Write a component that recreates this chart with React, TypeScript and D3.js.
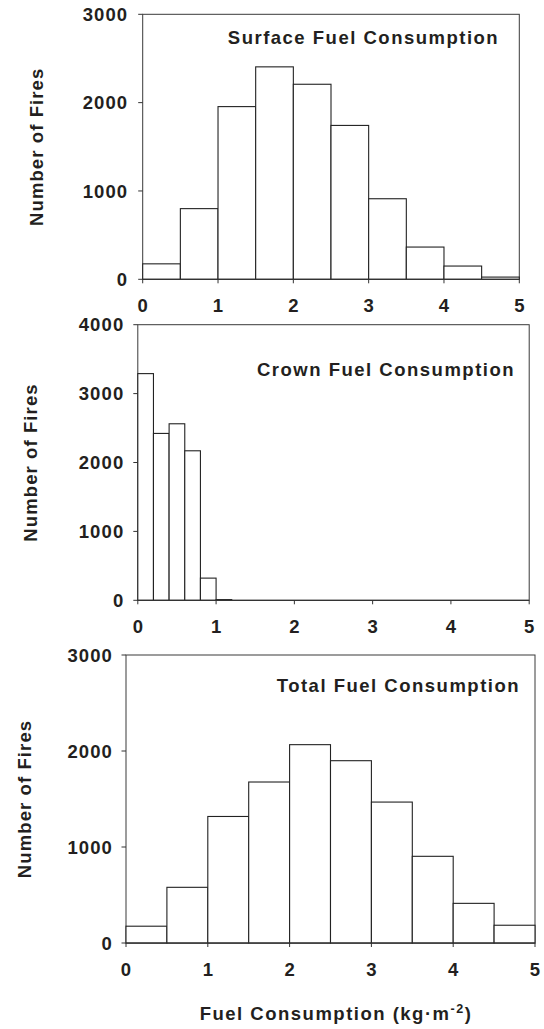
import React from "react";
import * as d3 from "d3";

const surfaceBins = [0, 0.5, 1, 1.5, 2, 2.5, 3, 3.5, 4, 4.5];
const surfaceCounts = [175, 800, 1955, 2405, 2208, 1742, 912, 365, 150, 25];

const crownBins = [0, 0.2, 0.4, 0.6, 0.8, 1.0];
const crownCounts = [3290, 2422, 2562, 2170, 322, 10];

const totalBins = [0, 0.5, 1, 1.5, 2, 2.5, 3, 3.5, 4, 4.5];
const totalCounts = [175, 580, 1318, 1677, 2066, 1899, 1468, 903, 413, 185];

const xTicks = [0, 1, 2, 3, 4, 5];
const yTicksA = [0, 1000, 2000, 3000];
const yTicksB = [0, 1000, 2000, 3000, 4000];

const titles = ["Surface Fuel Consumption", "Crown Fuel Consumption", "Total Fuel Consumption"];
const yTitle = "Number of Fires";

const INK = "#231f20";
const FONT = "'Liberation Sans', Arial, sans-serif";
const FS = 18.5;

type PanelProps = {
  bins: number[];
  counts: number[];
  width: number;
  yMax: number;
  yTicks: number[];
  x0: number; x1: number; yTop: number; yBot: number;
  title: string; titleX: number; titleY: number;
  yTitleX: number; labelGap: number;
};

function Panel(p: PanelProps) {
  const x = d3.scaleLinear().domain([0, 5]).range([p.x0, p.x1]);
  const y = d3.scaleLinear().domain([0, p.yMax]).range([p.yBot, p.yTop]);
  const txt = { fontFamily: FONT, fontWeight: 700, fontSize: FS, fill: INK } as const;
  return (
    <g>
      <rect x={p.x0} y={p.yTop} width={p.x1 - p.x0} height={p.yBot - p.yTop} fill="#fff" stroke="#3a3a3a" strokeWidth={1} />
      {p.bins.map((b, i) => (
        <rect key={i} x={x(b)} y={y(p.counts[i])} width={x(b + p.width) - x(b)} height={p.yBot - y(p.counts[i])}
          fill="#fff" stroke="#222" strokeWidth={1.1} />
      ))}
      <line x1={p.x0} x2={p.x1} y1={p.yBot} y2={p.yBot} stroke="#333" strokeWidth={1.2} />
      {p.yTicks.map((t) => (
        <g key={t}>
          <line x1={p.x0 - 4.5} x2={p.x0} y1={y(t)} y2={y(t)} stroke="#333" />
          <text x={p.x0 - p.labelGap} y={y(t)} dy="0.36em" textAnchor="end" letterSpacing={1.1} {...txt}>{t}</text>
        </g>
      ))}
      {xTicks.map((t) => (
        <g key={t}>
          <line x1={x(t)} x2={x(t)} y1={p.yBot} y2={p.yBot + 4} stroke="#333" />
          <text x={x(t)} y={p.yBot + 33} textAnchor="middle" {...txt}>{t}</text>
        </g>
      ))}
      <text x={p.titleX} y={p.titleY} textAnchor="middle" letterSpacing={1.5} {...txt}>{p.title}</text>
      <text transform={`translate(${p.yTitleX},${(p.yTop + p.yBot) / 2}) rotate(-90)`} dy="0.36em" textAnchor="middle" letterSpacing={1.1} {...txt}>{yTitle}</text>
    </g>
  );
}

export default function App() {
  return (
    <svg width={544} height={1029} style={{ position: "absolute", left: 0, top: 0, background: "#fff" }}>
      <Panel bins={surfaceBins} counts={surfaceCounts} width={0.5} yMax={3000} yTicks={yTicksA}
        x0={142.7} x1={519.3} yTop={14.3} yBot={279.3} title={titles[0]} titleX={363.5} titleY={44} yTitleX={36.5} labelGap={14.5} />
      <Panel bins={crownBins} counts={crownCounts} width={0.2} yMax={4000} yTicks={yTicksB}
        x0={137.8} x1={529.2} yTop={324.7} yBot={600.3} title={titles[1]} titleX={386} titleY={376} yTitleX={30.2} labelGap={13.5} />
      <Panel bins={totalBins} counts={totalCounts} width={0.5} yMax={3000} yTicks={yTicksA}
        x0={126} x1={535} yTop={655} yBot={943} title={titles[2]} titleX={398.4} titleY={691.5} yTitleX={24} labelGap={13} />
      <text x={336} y={1020} textAnchor="middle" fontFamily={FONT} fontWeight={700} fontSize={FS} letterSpacing={1.5} fill={INK}>
        Fuel Consumption (kg·m<tspan dy={-7} fontSize={12.5}>-2</tspan><tspan dy={7}>)</tspan>
      </text>
    </svg>
  );
}
